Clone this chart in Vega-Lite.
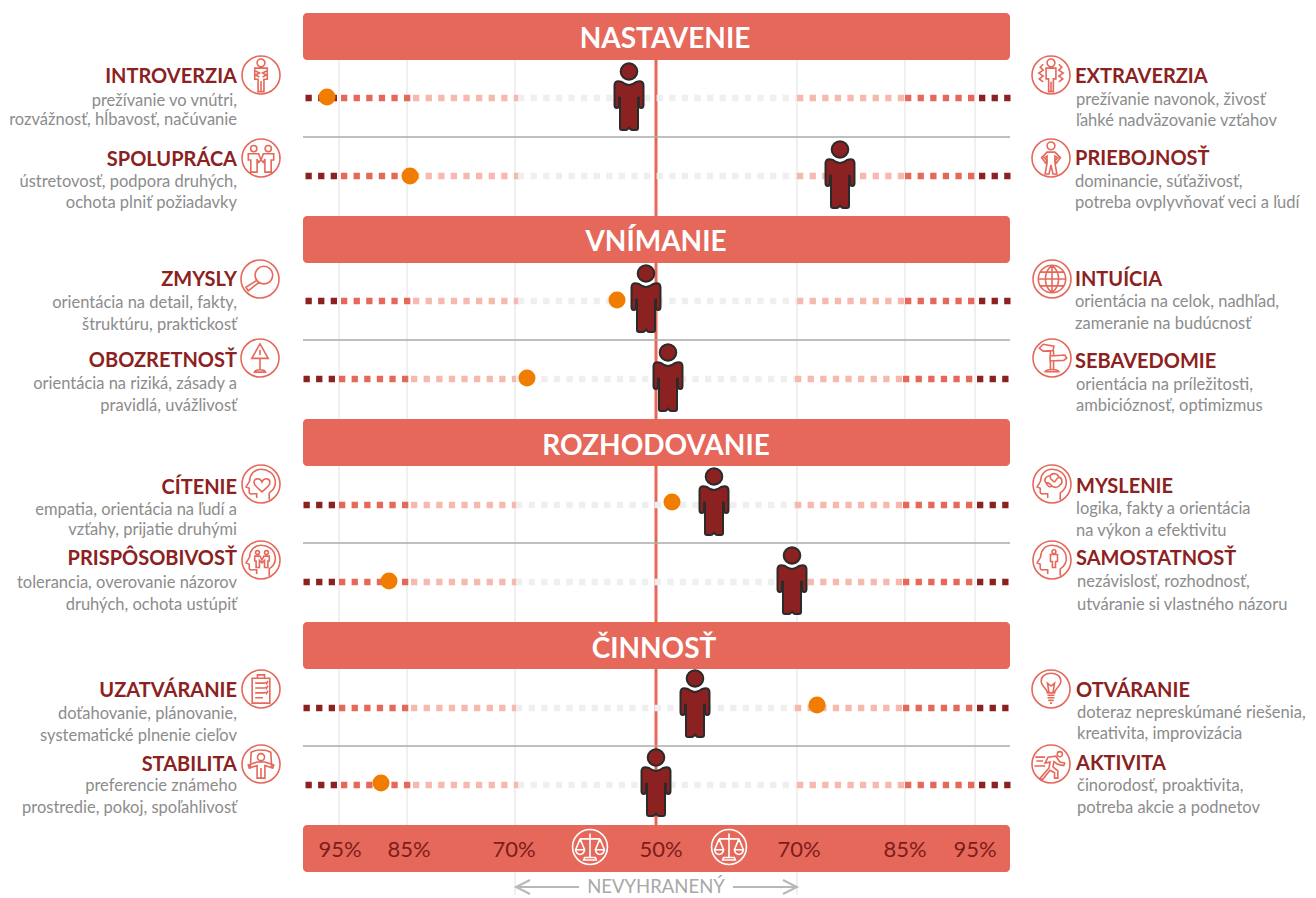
{
"$schema":"https://vega.github.io/schema/vega-lite/v6.json",
"width":1316,"height":898,"padding":0,"autosize":"none",
"background":"#ffffff","config":{"view":{"stroke":null}},
"datasets":{
"grid":[{"x":339,"y":60,"y2":825},{"x":407,"y":60,"y2":825},{"x":515,"y":60,"y2":895},{"x":797,"y":60,"y2":895},{"x":905,"y":60,"y2":825},{"x":975,"y":60,"y2":825}],
"bands":[{"x":303,"x2":1010,"y":13,"y2":60,"text":"NASTAVENIE"},{"x":303,"x2":1010,"y":216,"y2":263,"text":"VNÍMANIE"},{"x":303,"x2":1010,"y":419,"y2":466,"text":"ROZHODOVANIE"},{"x":303,"x2":1010,"y":622,"y2":669,"text":"ČINNOSŤ"},{"x":303,"x2":1010,"y":825,"y2":872,"text":""}],
"titles":[{"x":665,"y":38,"text":"NASTAVENIE"},{"x":656,"y":241,"text":"VNÍMANIE"},{"x":656,"y":445,"text":"ROZHODOVANIE"},{"x":654,"y":648,"text":"ČINNOSŤ"}],
"seps":[{"x":303,"x2":1010,"y":137},{"x":303,"x2":1010,"y":340},{"x":303,"x2":1010,"y":543},{"x":303,"x2":1010,"y":746}],
"dashes":[
{"y":98,"x":305.5,"x2":337,"b":"d"},{"y":98,"x":341,"x2":411,"b":"r"},{"y":98,"x":413,"x2":519,"b":"l"},{"y":98,"x":518,"x2":797,"b":"g"},{"y":98,"x":797,"x2":904,"b":"l"},{"y":98,"x":905,"x2":975,"b":"r"},{"y":98,"x":979,"x2":1011,"b":"d"},
{"y":176,"x":305.5,"x2":337,"b":"d"},{"y":176,"x":341,"x2":411,"b":"r"},{"y":176,"x":413,"x2":519,"b":"l"},{"y":176,"x":518,"x2":797,"b":"g"},{"y":176,"x":797,"x2":904,"b":"l"},{"y":176,"x":905,"x2":975,"b":"r"},{"y":176,"x":979,"x2":1011,"b":"d"},
{"y":301,"x":305.5,"x2":337,"b":"d"},{"y":301,"x":341,"x2":411,"b":"r"},{"y":301,"x":413,"x2":519,"b":"l"},{"y":301,"x":518,"x2":797,"b":"g"},{"y":301,"x":797,"x2":904,"b":"l"},{"y":301,"x":905,"x2":975,"b":"r"},{"y":301,"x":979,"x2":1011,"b":"d"},
{"y":379,"x":303.5,"x2":335,"b":"d"},{"y":379,"x":339,"x2":409,"b":"r"},{"y":379,"x":411,"x2":517,"b":"l"},{"y":379,"x":516,"x2":795,"b":"g"},{"y":379,"x":795,"x2":902,"b":"l"},{"y":379,"x":903,"x2":973,"b":"r"},{"y":379,"x":977,"x2":1009,"b":"d"},
{"y":505,"x":303.5,"x2":335,"b":"d"},{"y":505,"x":339,"x2":409,"b":"r"},{"y":505,"x":411,"x2":517,"b":"l"},{"y":505,"x":516,"x2":795,"b":"g"},{"y":505,"x":795,"x2":902,"b":"l"},{"y":505,"x":903,"x2":973,"b":"r"},{"y":505,"x":977,"x2":1009,"b":"d"},
{"y":582,"x":303.5,"x2":335,"b":"d"},{"y":582,"x":339,"x2":409,"b":"r"},{"y":582,"x":411,"x2":517,"b":"l"},{"y":582,"x":516,"x2":795,"b":"g"},{"y":582,"x":795,"x2":902,"b":"l"},{"y":582,"x":903,"x2":973,"b":"r"},{"y":582,"x":977,"x2":1009,"b":"d"},
{"y":708,"x":303.5,"x2":335,"b":"d"},{"y":708,"x":339,"x2":409,"b":"r"},{"y":708,"x":411,"x2":517,"b":"l"},{"y":708,"x":516,"x2":795,"b":"g"},{"y":708,"x":795,"x2":902,"b":"l"},{"y":708,"x":903,"x2":973,"b":"r"},{"y":708,"x":977,"x2":1009,"b":"d"},
{"y":785,"x":305.5,"x2":337,"b":"d"},{"y":785,"x":341,"x2":411,"b":"r"},{"y":785,"x":413,"x2":519,"b":"l"},{"y":785,"x":518,"x2":797,"b":"g"},{"y":785,"x":797,"x2":904,"b":"l"},{"y":785,"x":905,"x2":975,"b":"r"},{"y":785,"x":979,"x2":1011,"b":"d"}
],
"dots":[{"x":327,"y":97},{"x":410,"y":176},{"x":617,"y":300},{"x":527,"y":378},{"x":672,"y":502},{"x":389,"y":581},{"x":817,"y":705},{"x":381,"y":783}],
"people":[{"x":629,"y":97},{"x":840,"y":175},{"x":646,"y":299},{"x":668,"y":378},{"x":714,"y":502},{"x":792,"y":581},{"x":695,"y":704},{"x":656,"y":783}],
"icons":[
{"x":261,"y":75,"icon":"introverzia"},{"x":261,"y":158,"icon":"spolupraca"},{"x":260,"y":279,"icon":"zmysly"},{"x":260,"y":358,"icon":"obozretnost"},{"x":261,"y":484,"icon":"citenie"},{"x":261,"y":560,"icon":"prisposobivost"},{"x":261,"y":689,"icon":"uzatvaranie"},{"x":261,"y":764,"icon":"stabilita"},
{"x":1051,"y":75,"icon":"extraverzia"},{"x":1051,"y":158,"icon":"priebojnost"},{"x":1052,"y":279,"icon":"intuicia"},{"x":1052,"y":358,"icon":"sebavedomie"},{"x":1052,"y":484,"icon":"myslenie"},{"x":1052,"y":560,"icon":"samostatnost"},{"x":1051,"y":689,"icon":"otvaranie"},{"x":1051,"y":764,"icon":"aktivita"}
],
"balance":[{"x":590,"y":847},{"x":729,"y":847}],
"headsL":[{"x":237,"y":76,"text":"INTROVERZIA"},{"x":237,"y":159,"text":"SPOLUPRÁCA"},{"x":237,"y":279,"text":"ZMYSLY"},{"x":237,"y":360,"text":"OBOZRETNOSŤ"},{"x":237,"y":487,"text":"CÍTENIE"},{"x":237,"y":558,"text":"PRISPÔSOBIVOSŤ"},{"x":237,"y":690,"text":"UZATVÁRANIE"},{"x":237,"y":764,"text":"STABILITA"}],
"headsR":[{"x":1075,"y":76,"text":"EXTRAVERZIA"},{"x":1075,"y":158,"text":"PRIEBOJNOSŤ"},{"x":1075,"y":279,"text":"INTUÍCIA"},{"x":1075,"y":361,"text":"SEBAVEDOMIE"},{"x":1076,"y":486,"text":"MYSLENIE"},{"x":1076,"y":558,"text":"SAMOSTATNOSŤ"},{"x":1076,"y":690,"text":"OTVÁRANIE"},{"x":1076,"y":763,"text":"AKTIVITA"}],
"descL":[{"x":237,"y":100,"text":"prežívanie vo vnútri,"},{"x":237,"y":119,"text":"rozvážnosť, hĺbavosť, načúvanie"},{"x":237,"y":181,"text":"ústretovosť, podpora druhých,"},{"x":237,"y":202,"text":"ochota plniť požiadavky"},{"x":237,"y":302,"text":"orientácia na detail, fakty,"},{"x":237,"y":324,"text":"štruktúru, praktickosť"},{"x":237,"y":383,"text":"orientácia na riziká, zásady a"},{"x":237,"y":405,"text":"pravidlá, uvážlivosť"},{"x":237,"y":509,"text":"empatia, orientácia na ľudí a"},{"x":237,"y":529,"text":"vzťahy, prijatie druhými"},{"x":237,"y":582,"text":"tolerancia, overovanie názorov"},{"x":237,"y":604,"text":"druhých, ochota ustúpiť"},{"x":237,"y":713,"text":"doťahovanie, plánovanie,"},{"x":237,"y":735,"text":"systematické plnenie cieľov"},{"x":237,"y":785,"text":"preferencie známeho"},{"x":237,"y":807,"text":"prostredie, pokoj, spoľahlivosť"}],
"descR":[{"x":1076,"y":99,"text":"prežívanie navonok, živosť"},{"x":1076,"y":120,"text":"ľahké nadväzovanie vzťahov"},{"x":1075,"y":181,"text":"dominancie, súťaživosť,"},{"x":1075,"y":202,"text":"potreba ovplyvňovať veci a ľudí"},{"x":1075,"y":301,"text":"orientácia na celok, nadhľad,"},{"x":1075,"y":323,"text":"zameranie na budúcnosť"},{"x":1076,"y":384,"text":"orientácia na príležitosti,"},{"x":1076,"y":405,"text":"ambicióznosť, optimizmus"},{"x":1076,"y":508,"text":"logika, fakty a orientácia"},{"x":1076,"y":530,"text":"na výkon a efektivitu"},{"x":1077,"y":581,"text":"nezávislosť, rozhodnosť,"},{"x":1077,"y":604,"text":"utváranie si vlastného názoru"},{"x":1077,"y":712,"text":"doteraz nepreskúmané riešenia,"},{"x":1077,"y":733,"text":"kreativita, improvizácia"},{"x":1077,"y":785,"text":"činorodosť, proaktivita,"},{"x":1077,"y":807,"text":"potreba akcie a podnetov"}],
"ticks":[{"x":340,"y":849,"text":"95%"},{"x":409,"y":849,"text":"85%"},{"x":514,"y":849,"text":"70%"},{"x":661,"y":849,"text":"50%"},{"x":799,"y":849,"text":"70%"},{"x":905,"y":849,"text":"85%"},{"x":975,"y":849,"text":"95%"}],
"arrowRules":[{"x":517,"x2":579,"y":887},{"x":733,"x2":796,"y":887}]
},
"data":{"name":"grid"},
"encoding":{
"x":{"field":"x","type":"quantitative","axis":null,"scale":{"domain":[0,1316],"nice":false,"zero":false}},
"y":{"field":"y","type":"quantitative","axis":null,"scale":{"domain":[0,898],"reverse":true,"nice":false,"zero":false}}
},
"layer":[
{"data":{"name":"grid"},"mark":{"type":"rule","color":"#ebebeb","strokeWidth":1.5},"encoding":{"y2":{"field":"y2"}}},
{"data":{"name":"bands"},"mark":{"type":"rect","color":"#e5685b","cornerRadius":4},"encoding":{"x2":{"field":"x2"},"y2":{"field":"y2"}}},
{"data":{"values":[{"x":656,"y":60,"y2":825}]},"mark":{"type":"rule","color":"#e5685b","strokeWidth":3},"encoding":{"y2":{"field":"y2"}}},
{"data":{"name":"seps"},"mark":{"type":"rule","color":"#aaaaaa","strokeWidth":1.5},"encoding":{"x2":{"field":"x2"}}},
{"data":{"name":"dashes"},"mark":{"type":"rule","strokeWidth":6.3,"strokeDash":[6.3,6.3]},"encoding":{"x2":{"field":"x2"},"color":{"field":"b","type":"nominal","legend":null,"scale":{"domain":["d","r","l","g"],"range":["#8b2120","#e5685b","#f6b9ae","#efefef"]}}}},
{"data":{"name":"dots"},"mark":{"type":"point","filled":true,"fill":"#f07d00","stroke":null,"opacity":1,"shape":"circle","size":290}},
{"data":{"name":"people"},"mark":{"type":"point","filled":true,"fill":"#8b2120","stroke":"#2b2b2b","strokeWidth":2,"opacity":1,"size":4624,"shape":"M-.206,-.441C-.12,-.38 -.06,-.353 0,-.353C.06,-.353 .12,-.38 .206,-.441C.3,-.47 .353,-.47 .39,-.44C.42,-.41 .426,-.38 .426,-.35L.426,.235C.426,.29 .4,.324 .36,.324C.32,.324 .294,.29 .294,.235L.294,.02L.265,.02L.265,.912C.265,.95 .24,.97 .206,.97L.09,.97C.05,.97 .03,.94 0,.9C-.03,.94 -.05,.97 -.09,.97L-.206,.97C-.24,.97 -.265,.95 -.265,.912L-.265,.02L-.294,.02L-.294,.235C-.294,.29 -.32,.324 -.36,.324C-.4,.324 -.426,.29 -.426,.235L-.426,-.35C-.426,-.38 -.42,-.41 -.39,-.44C-.353,-.47 -.3,-.47 -.206,-.441Z M-.244,-.75C-.244,-.885 -.135,-.99 0,-.99C.135,-.99 .244,-.885 .244,-.75C.244,-.615 .135,-.51 0,-.51C-.135,-.51 -.244,-.615 -.244,-.75Z"}},
{"data":{"name":"icons"},"mark":{"type":"point","filled":false,"stroke":"#e5685b","strokeWidth":1.6,"opacity":1,"size":1537},"encoding":{"shape":{"field":"icon","type":"nominal","legend":null,"scale":{"domain":["introverzia","spolupraca","zmysly","obozretnost","citenie","prisposobivost","uzatvaranie","stabilita","extraverzia","priebojnost","intuicia","sebavedomie","myslenie","samostatnost","otvaranie","aktivita"],"range":[
"M0,-.97C.535,-.97 .97,-.535 .97,0C.97,.535 .535,.97 0,.97C-.535,.97 -.97,.535 -.97,0C-.97,-.535 -.535,-.97 0,-.97Z M-.2,-.62C-.2,-.73 -.11,-.82 0,-.82C.11,-.82 .2,-.73 .2,-.62C.2,-.51 .11,-.42 0,-.42C-.11,-.42 -.2,-.51 -.2,-.62Z M-.32,-.35L.32,-.35L.32,.22L.15,.22L.15,.85L0,.85L0,.3L0,.85L-.15,.85L-.15,.22L-.32,.22Z M-.28,-.2L-.08,-.1L-.28,0L-.08,.1 M.28,-.2L.08,-.1L.28,0L.08,.1",
"M0,-.97C.535,-.97 .97,-.535 .97,0C.97,.535 .535,.97 0,.97C-.535,.97 -.97,.535 -.97,0C-.97,-.535 -.535,-.97 0,-.97Z M-.53,-.48C-.53,-.57 -.46,-.64 -.37,-.64C-.28,-.64 -.21,-.57 -.21,-.48C-.21,-.39 -.28,-.32 -.37,-.32C-.46,-.32 -.53,-.39 -.53,-.48Z M.21,-.48C.21,-.57 .28,-.64 .37,-.64C.46,-.64 .53,-.57 .53,-.48C.53,-.39 .46,-.32 .37,-.32C.28,-.32 .21,-.39 .21,-.48Z M-.65,-.22L-.12,-.22L0,.1L-.12,.22L-.2,.05L-.2,.72L-.52,.72L-.52,.1L-.65,.1Z M.65,-.22L.12,-.22L0,.1L.12,.22L.2,.05L.2,.72L.52,.72L.52,.1L.65,.1Z",
"M0,-.97C.535,-.97 .97,-.535 .97,0C.97,.535 .535,.97 0,.97C-.535,.97 -.97,.535 -.97,0C-.97,-.535 -.535,-.97 0,-.97Z M-.25,-.2C-.25,-.448 -.048,-.65 .2,-.65C.448,-.65 .65,-.448 .65,-.2C.65,.048 .448,.25 .2,.25C-.048,.25 -.25,.048 -.25,-.2Z M-.13,.05L-.72,.42L-.6,.6L-.03,.16",
"M0,-.97C.535,-.97 .97,-.535 .97,0C.97,.535 .535,.97 0,.97C-.535,.97 -.97,.535 -.97,0C-.97,-.535 -.535,-.97 0,-.97Z M0,-.72L.42,.02L-.42,.02Z M0,-.42L0,-.15 M0,.02L0,.62 M-.28,.72C-.25,.56 .25,.56 .28,.72Z",
"M0,-.97C.535,-.97 .97,-.535 .97,0C.97,.535 .535,.97 0,.97C-.535,.97 -.97,.535 -.97,0C-.97,-.535 -.535,-.97 0,-.97Z M.42,.8L.42,.45C.66,.3 .76,.05 .72,-.2C.66,-.55 .35,-.75 0,-.75C-.35,-.75 -.58,-.48 -.58,-.15L-.76,.15L-.6,.22L-.6,.42C-.6,.5 -.5,.52 -.4,.5L-.22,.5L-.22,.72 M.05,-.1C-.05,-.35 -.4,-.3 -.35,-.05C-.32,.12 -.1,.25 .05,.4C.2,.25 .45,.1 .45,-.05C.48,-.3 .15,-.35 .05,-.1Z",
"M0,-.97C.535,-.97 .97,-.535 .97,0C.97,.535 .535,.97 0,.97C-.535,.97 -.97,.535 -.97,0C-.97,-.535 -.535,-.97 0,-.97Z M.42,.8L.42,.45C.66,.3 .76,.05 .72,-.2C.66,-.55 .35,-.75 0,-.75C-.35,-.75 -.58,-.48 -.58,-.15L-.76,.15L-.6,.22L-.6,.42C-.6,.5 -.5,.52 -.4,.5L-.22,.5L-.22,.72 M-.28,-.38C-.28,-.44 -.24,-.48 -.18,-.48C-.12,-.48 -.08,-.44 -.08,-.38C-.08,-.32 -.12,-.28 -.18,-.28C-.24,-.28 -.28,-.32 -.28,-.38Z M.18,-.38C.18,-.44 .22,-.48 .28,-.48C.34,-.48 .38,-.44 .38,-.38C.38,-.32 .34,-.28 .28,-.28C.22,-.28 .18,-.32 .18,-.38Z M-.32,-.2L-.05,-.2L.05,0L.15,-.2L.42,-.2L.42,.05L.35,.05L.35,.38L.18,.38L.18,.02L.05,.15L-.08,.02L-.08,.38L-.25,.38L-.25,.05L-.32,.05Z",
"M0,-.97C.535,-.97 .97,-.535 .97,0C.97,.535 .535,.97 0,.97C-.535,.97 -.97,.535 -.97,0C-.97,-.535 -.535,-.97 0,-.97Z M-.45,-.55L.45,-.55L.45,.72L-.45,.72Z M-.18,-.55L-.18,-.72L.18,-.72L.18,-.55 M-.3,-.3L.2,-.3 M-.3,-.05L.2,-.05 M-.3,.2L.2,.2 M-.3,.45L.1,.45 M.22,-.35L.28,-.27L.36,-.42 M.22,-.1L.28,-.02L.36,-.17 M.22,.15L.28,.23L.36,.08",
"M0,-.97C.535,-.97 .97,-.535 .97,0C.97,.535 .535,.97 0,.97C-.535,.97 -.97,.535 -.97,0C-.97,-.535 -.535,-.97 0,-.97Z M-.18,-.35C-.18,-.45 -.1,-.53 0,-.53C.1,-.53 .18,-.45 .18,-.35C.18,-.25 .1,-.17 0,-.17C-.1,-.17 -.18,-.25 -.18,-.35Z M-.55,.25L-.5,-.6C-.25,-.75 .25,-.75 .5,-.6L.55,.25 M-.65,.05L-.2,-.1L.2,-.1L.65,.05L.6,.2L.2,.08L.2,.72L-.2,.72L-.2,.08L-.6,.2Z M0,.2L0,.72",
"M0,-.97C.535,-.97 .97,-.535 .97,0C.97,.535 .535,.97 0,.97C-.535,.97 -.97,.535 -.97,0C-.97,-.535 -.535,-.97 0,-.97Z M-.2,-.62C-.2,-.73 -.11,-.82 0,-.82C.11,-.82 .2,-.73 .2,-.62C.2,-.51 .11,-.42 0,-.42C-.11,-.42 -.2,-.51 -.2,-.62Z M-.25,-.35L.25,-.35L.25,.2L.12,.2L.12,.85L-.12,.85L-.12,.2L-.25,.2Z M0,.35L0,.85 M-.4,-.55L-.55,-.4L-.4,-.25L-.62,-.1L-.4,.05L-.6,.2L-.4,.35 M.4,-.55L.55,-.4L.4,-.25L.62,-.1L.4,.05L.6,.2L.4,.35",
"M0,-.97C.535,-.97 .97,-.535 .97,0C.97,.535 .535,.97 0,.97C-.535,.97 -.97,.535 -.97,0C-.97,-.535 -.535,-.97 0,-.97Z M-.2,-.62C-.2,-.73 -.11,-.82 0,-.82C.11,-.82 .2,-.73 .2,-.62C.2,-.51 .11,-.42 0,-.42C-.11,-.42 -.2,-.51 -.2,-.62Z M-.2,-.3L.2,-.3L.48,-.02L.28,.25L.2,.15L.35,-.02L.2,-.1L.2,.25L.3,.82L.1,.82L0,.35L-.1,.82L-.3,.82L-.2,.25L-.2,-.1L-.35,-.02L-.2,.15L-.28,.25L-.48,-.02Z",
"M0,-.97C.535,-.97 .97,-.535 .97,0C.97,.535 .535,.97 0,.97C-.535,.97 -.97,.535 -.97,0C-.97,-.535 -.535,-.97 0,-.97Z M-.7,0C-.7,-.386 -.386,-.7 0,-.7C.386,-.7 .7,-.386 .7,0C.7,.386 .386,.7 0,.7C-.386,.7 -.7,.386 -.7,0Z M0,-.7C-.45,-.35 -.45,.35 0,.7C.45,.35 .45,-.35 0,-.7 M0,-.7L0,.7 M-.7,0L.7,0 M-.6,-.35L.6,-.35 M-.6,.35L.6,.35",
"M0,-.97C.535,-.97 .97,-.535 .97,0C.97,.535 .535,.97 0,.97C-.535,.97 -.97,.535 -.97,0C-.97,-.535 -.535,-.97 0,-.97Z M-.65,-.5L-.45,-.7L.1,-.6L.05,-.38L-.45,-.35Z M-.1,-.1L.65,-.15L.75,0L.6,.12L-.1,.15Z M-.35,.7C-.3,.55 .3,.55 .35,.7Z M-.08,-.35L-.08,-.1 M.08,-.38L.08,-.1 M-.08,.15L-.08,.58 M.08,.15L.08,.58",
"M0,-.97C.535,-.97 .97,-.535 .97,0C.97,.535 .535,.97 0,.97C-.535,.97 -.97,.535 -.97,0C-.97,-.535 -.535,-.97 0,-.97Z M.42,.8L.42,.45C.66,.3 .76,.05 .72,-.2C.66,-.55 .35,-.75 0,-.75C-.35,-.75 -.58,-.48 -.58,-.15L-.76,.15L-.6,.22L-.6,.42C-.6,.5 -.5,.52 -.4,.5L-.22,.5L-.22,.72 M-.3,-.05C-.45,-.2 -.3,-.45 -.1,-.4C0,-.6 .3,-.55 .35,-.35C.55,-.3 .55,0 .4,.05C.35,.2 .1,.2 0,.1C-.1,.2 -.25,.1 -.3,-.05Z M-.1,-.4C-.1,-.2 .05,-.2 .1,-.1 M.35,-.35C.2,-.3 .2,-.1 .1,-.1 M-.3,-.05C-.15,-.1 -.1,0 0,.1",
"M0,-.97C.535,-.97 .97,-.535 .97,0C.97,.535 .535,.97 0,.97C-.535,.97 -.97,.535 -.97,0C-.97,-.535 -.535,-.97 0,-.97Z M.42,.8L.42,.45C.66,.3 .76,.05 .72,-.2C.66,-.55 .35,-.75 0,-.75C-.35,-.75 -.58,-.48 -.58,-.15L-.76,.15L-.6,.22L-.6,.42C-.6,.5 -.5,.52 -.4,.5L-.22,.5L-.22,.72 M0,-.42C0,-.48 .04,-.52 .1,-.52C.16,-.52 .2,-.48 .2,-.42C.2,-.36 .16,-.32 .1,-.32C.04,-.32 0,-.36 0,-.42Z M-.08,-.28L.28,-.28L.28,.08L.18,.08L.18,.38L.02,.38L.02,.08L-.08,.08Z",
"M0,-.97C.535,-.97 .97,-.535 .97,0C.97,.535 .535,.97 0,.97C-.535,.97 -.97,.535 -.97,0C-.97,-.535 -.535,-.97 0,-.97Z M-.18,.2C-.18,0 -.5,-.15 -.5,-.4C-.5,-.68 -.25,-.8 0,-.8C.25,-.8 .5,-.68 .5,-.4C.5,-.15 .18,0 .18,.2Z M-.18,.32L.18,.32 M-.18,.45L.18,.45 M-.14,.58L.14,.58 M-.05,.72L.05,.72 M-.1,.2L-.18,-.3L0,-.15L.18,-.3L.1,.2",
"M0,-.97C.535,-.97 .97,-.535 .97,0C.97,.535 .535,.97 0,.97C-.535,.97 -.97,.535 -.97,0C-.97,-.535 -.535,-.97 0,-.97Z M.32,-.5C.32,-.57 .38,-.63 .45,-.63C.52,-.63 .58,-.57 .58,-.5C.58,-.43 .52,-.37 .45,-.37C.38,-.37 .32,-.43 .32,-.5Z M-.55,.72L-.1,.2L-.05,-.1L-.3,-.05L-.15,-.35L.25,-.4L.45,-.1L.7,-.05L.65,.08L.35,.02L.15,-.12L.1,.15L.35,.35L.35,.72L.18,.72L.18,.45L-.05,.32L-.45,.82Z M-.8,-.35L-.3,-.35 M-.75,-.15L-.4,-.15 M-.85,.1L-.3,.1"
]}}}},
{"data":{"name":"balance"},"mark":{"type":"point","filled":false,"stroke":"#ffffff","strokeWidth":1.6,"opacity":1,"size":1296,"shape":"M0,-.97C.535,-.97 .97,-.535 .97,0C.97,.535 .535,.97 0,.97C-.535,.97 -.97,.535 -.97,0C-.97,-.535 -.535,-.97 0,-.97Z M0,-.75L0,.55 M-.55,-.45L.55,-.45 M-.55,-.45L-.8,.15 M-.55,-.45L-.3,.15 M.55,-.45L.3,.15 M.55,-.45L.8,.15 M-.8,.15C-.75,.5 -.35,.5 -.3,.15Z M.3,.15C.35,.5 .75,.5 .8,.15Z M-.35,.72L.35,.72L.3,.58L-.3,.58Z"}},
{"data":{"name":"titles"},"mark":{"type":"text","font":"Lato","fontWeight":700,"fontSize":28,"color":"#ffffff","align":"center","baseline":"middle","dy":2},"encoding":{"text":{"field":"text"}}},
{"data":{"name":"headsL"},"mark":{"type":"text","font":"Lato","fontWeight":700,"fontSize":20,"color":"#8b2120","align":"right","baseline":"middle","dy":1},"encoding":{"text":{"field":"text"}}},
{"data":{"name":"headsR"},"mark":{"type":"text","font":"Lato","fontWeight":700,"fontSize":20,"color":"#8b2120","align":"left","baseline":"middle","dy":1},"encoding":{"text":{"field":"text"}}},
{"data":{"name":"descL"},"mark":{"type":"text","font":"Lato","fontSize":16.5,"color":"#8c8c8c","align":"right","baseline":"middle","dy":1},"encoding":{"text":{"field":"text"}}},
{"data":{"name":"descR"},"mark":{"type":"text","font":"Lato","fontSize":16.5,"color":"#8c8c8c","align":"left","baseline":"middle","dy":1},"encoding":{"text":{"field":"text"}}},
{"data":{"name":"ticks"},"mark":{"type":"text","font":"Lato","fontSize":22,"color":"#7d1d1a","align":"center","baseline":"middle","dy":1},"encoding":{"text":{"field":"text"}}},
{"data":{"values":[{"x":656,"y":887,"text":"NEVYHRANENÝ"}]},"mark":{"type":"text","font":"Lato","fontSize":18.5,"color":"#a8a8a8","align":"center","baseline":"middle"},"encoding":{"text":{"field":"text"}}},
{"data":{"name":"arrowRules"},"mark":{"type":"rule","color":"#b8b8b8","strokeWidth":2},"encoding":{"x2":{"field":"x2"}}},
{"data":{"values":[{"x":523,"y":887}]},"mark":{"type":"point","filled":false,"stroke":"#b8b8b8","strokeWidth":2,"opacity":1,"size":196,"shape":"M1,-1L-1,0L1,1"}},
{"data":{"values":[{"x":790,"y":887}]},"mark":{"type":"point","filled":false,"stroke":"#b8b8b8","strokeWidth":2,"opacity":1,"size":196,"shape":"M-1,-1L1,0L-1,1"}}
]
}
